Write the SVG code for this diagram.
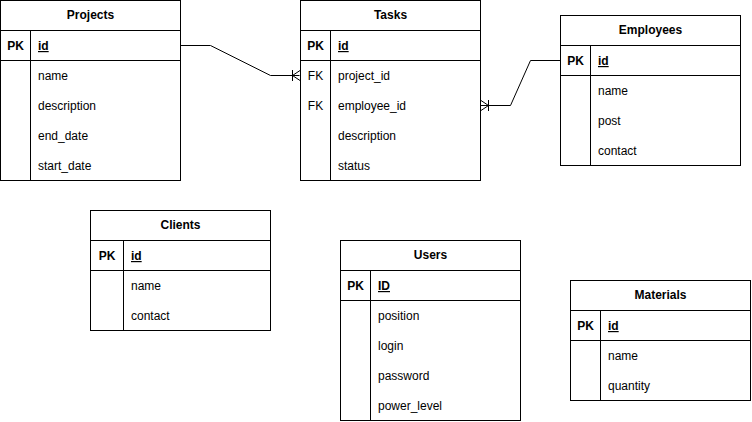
<svg xmlns="http://www.w3.org/2000/svg" width="752" height="422" viewBox="0 0 752 422">
<style>
.box{fill:#fff;stroke:#000;stroke-width:1}
.ln{stroke:#000;stroke-width:1;fill:none}
text{font-family:"Liberation Sans",Arial,sans-serif;font-size:12px;fill:#000}
.h{font-weight:bold;text-anchor:middle}
.k{text-anchor:middle}
.pk{font-weight:bold}
.u{text-decoration:underline}
</style>
<rect width="752" height="422" fill="#fff"/>
<g id="connectors">
<polyline class="ln" points="180.5,45.5 210.5,45.5 270.5,75.5 299.5,75.5"/>
<path class="ln" d="M292.5,70 V81 M292.5,75.5 L300,70.5 M292.5,75.5 L300,80.5"/>
<polyline class="ln" points="480.5,105.5 510.5,105.5 530.5,60.5 560.5,60.5"/>
<path class="ln" d="M488.5,100 V111 M488.5,105.5 L481,100.5 M488.5,105.5 L481,110.5"/>
</g>
<g id="projects">
<rect class="box" x="0.5" y="0.5" width="180" height="180"/>
<path class="ln" d="M0.5,30.5 H180.5 M0.5,60.5 H180.5 M30.5,30.5 V180.5"/>
<text class="h" x="90.5" y="19">Projects</text>
<text class="k pk" x="15.5" y="50">PK</text>
<text class="pk u" x="38" y="50">id</text>
<text x="38" y="80">name</text>
<text x="38" y="110">description</text>
<text x="38" y="140">end_date</text>
<text x="38" y="170">start_date</text>
</g>
<g id="tasks">
<rect class="box" x="300.5" y="0.5" width="180" height="180"/>
<path class="ln" d="M300.5,30.5 H480.5 M300.5,60.5 H480.5 M330.5,30.5 V180.5"/>
<text class="h" x="390.5" y="19">Tasks</text>
<text class="k pk" x="315.5" y="50">PK</text>
<text class="pk u" x="338" y="50">id</text>
<text class="k" x="315.5" y="80">FK</text>
<text x="338" y="80">project_id</text>
<text class="k" x="315.5" y="110">FK</text>
<text x="338" y="110">employee_id</text>
<text x="338" y="140">description</text>
<text x="338" y="170">status</text>
</g>
<g id="employees">
<rect class="box" x="560.5" y="15.5" width="180" height="150"/>
<path class="ln" d="M560.5,45.5 H740.5 M560.5,75.5 H740.5 M590.5,45.5 V165.5"/>
<text class="h" x="650.5" y="34">Employees</text>
<text class="k pk" x="575.5" y="65">PK</text>
<text class="pk u" x="598" y="65">id</text>
<text x="598" y="95">name</text>
<text x="598" y="125">post</text>
<text x="598" y="155">contact</text>
</g>
<g id="clients">
<rect class="box" x="90.5" y="210.5" width="180" height="120"/>
<path class="ln" d="M90.5,240.5 H270.5 M90.5,270.5 H270.5 M123.5,240.5 V330.5"/>
<text class="h" x="180.5" y="229">Clients</text>
<text class="k pk" x="107" y="260">PK</text>
<text class="pk u" x="131" y="260">id</text>
<text x="131" y="290">name</text>
<text x="131" y="320">contact</text>
</g>
<g id="users">
<rect class="box" x="340.5" y="240.5" width="180" height="180"/>
<path class="ln" d="M340.5,270.5 H520.5 M340.5,300.5 H520.5 M370.5,270.5 V420.5"/>
<text class="h" x="430.5" y="259">Users</text>
<text class="k pk" x="355.5" y="290">PK</text>
<text class="pk u" x="378" y="290">ID</text>
<text x="378" y="320">position</text>
<text x="378" y="350">login</text>
<text x="378" y="380">password</text>
<text x="378" y="410">power_level</text>
</g>
<g id="materials">
<rect class="box" x="570.5" y="280.5" width="180" height="120"/>
<path class="ln" d="M570.5,310.5 H750.5 M570.5,340.5 H750.5 M600.5,310.5 V400.5"/>
<text class="h" x="660.5" y="299">Materials</text>
<text class="k pk" x="585.5" y="330">PK</text>
<text class="pk u" x="608" y="330">id</text>
<text x="608" y="360">name</text>
<text x="608" y="390">quantity</text>
</g>
</svg>
